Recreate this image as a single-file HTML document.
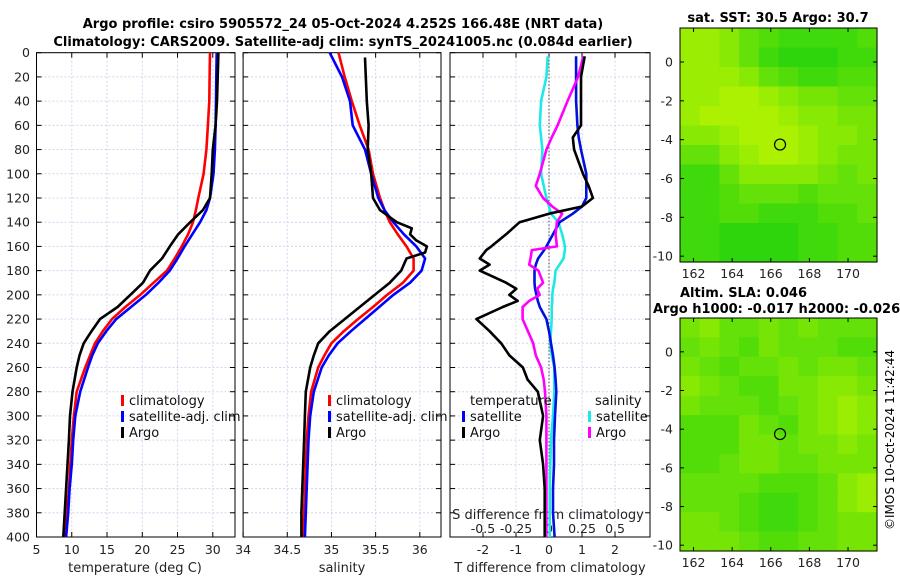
<!DOCTYPE html>
<html><head><meta charset="utf-8"><style>
body{margin:0;background:#fff}
svg{display:block;font-family:"DejaVu Sans","Liberation Sans",sans-serif}
</style></head><body>
<svg id="c" width="900" height="580" viewBox="0 0 900 580" xmlns="http://www.w3.org/2000/svg">
<rect width="900" height="580" fill="#fff"/>
<text x="343" y="28" text-anchor="middle" font-size="13" font-weight="bold">Argo profile: csiro 5905572_24 05-Oct-2024 4.252S 166.48E (NRT data)</text>
<text x="343" y="46" text-anchor="middle" font-size="13" font-weight="bold">Climatology: CARS2009. Satellite-adj clim: synTS_20241005.nc (0.084d earlier)</text>
<g id="plots"></g>
<text x="778" y="22" text-anchor="middle" font-size="13" font-weight="bold">sat. SST: 30.5 Argo: 30.7</text>
<text x="680" y="297" font-size="13" font-weight="bold">Altim. SLA: 0.046</text>
<text x="653" y="313" font-size="13" font-weight="bold">Argo h1000: -0.017 h2000: -0.026</text>
<text transform="translate(894,440) rotate(-90)" text-anchor="middle" font-size="12">©IMOS 10-Oct-2024 11:42:44</text>
</svg>
<script>
const depths=[0,20,40,60,80,100,120,130,140,150,160,170,180,190,200,210,220,230,240,250,260,280,300,320,340,360,380,400];
const tempClim=[29.6,29.55,29.5,29.3,29.1,28.7,27.95,27.6,27.2,26.5,25.6,24.6,23.5,21.6,19.7,17.6,15.7,14.4,13.3,12.6,11.9,10.7,10.3,10.0,9.8,9.6,9.3,9.0];
const tempSat=[30.55,30.5,30.45,30.4,30.3,30.1,29.6,29.1,28.2,27.1,26.0,25.0,23.9,22.3,20.5,18.4,16.3,14.9,13.7,12.9,12.3,11.2,10.5,10.2,10.0,9.7,9.5,9.2];
const tempArgo=[30.8,30.7,30.6,30.4,30.0,29.85,29.6,28.6,26.8,25.1,23.9,22.8,21.1,20.1,18.3,16.5,14.0,12.8,11.7,11.1,10.7,10.1,9.75,9.6,9.4,9.2,9.0,8.8];
const salClim=[35.08,35.15,35.23,35.32,35.42,35.47,35.55,35.6,35.66,35.75,35.85,35.93,35.93,35.81,35.63,35.47,35.30,35.14,35.0,34.92,34.85,34.77,34.74,34.72,34.71,34.70,34.69,34.68];
const salSat=[34.98,35.12,35.21,35.24,35.38,35.45,35.53,35.6,35.70,35.82,35.96,36.06,36.02,35.89,35.70,35.54,35.38,35.22,35.07,34.97,34.89,34.80,34.76,34.74,34.73,34.72,34.71,34.70];
const salArgoDepth=[4,40,60,80,100,120,130,140,145,150,155,160,165,170,180,190,200,210,220,230,240,250,260,280,300,320,340,360,380,400];
const salArgo=[35.38,35.40,35.42,35.41,35.45,35.47,35.55,35.74,35.91,35.89,35.96,36.08,36.06,35.85,35.79,35.66,35.49,35.32,35.15,34.98,34.85,34.80,34.76,34.71,34.70,34.69,34.68,34.67,34.66,34.66];
const diffDepth=[3,20,40,60,70,80,100,110,120,127,133,140,150,160,163,170,175,180,190,195,200,205,210,220,230,240,250,260,270,280,300,320,340,360,380,400];
const dTsat=[0.82,0.82,0.82,0.86,0.9,0.97,1.13,1.13,1.13,1.0,0.72,0.32,0.12,-0.08,-0.15,-0.33,-0.4,-0.44,-0.44,-0.42,-0.38,-0.34,-0.28,-0.08,0.0,0.06,0.12,0.17,0.2,0.22,0.18,0.15,0.15,0.12,0.12,0.17];
const dTargo=[1.08,0.97,0.97,0.97,0.72,0.76,1.03,1.2,1.33,1.0,0.0,-0.89,-1.3,-1.75,-1.9,-2.1,-1.8,-2.1,-1.3,-0.99,-1.2,-0.95,-1.4,-2.2,-1.8,-1.45,-1.2,-0.79,-0.65,-0.34,-0.18,-0.28,-0.18,-0.13,-0.13,-0.13];
const dSsat=[-0.01,-0.02,-0.06,-0.07,-0.06,-0.05,-0.06,-0.04,-0.02,0.0,0.015,0.07,0.1,0.12,0.12,0.11,0.08,0.05,0.04,0.03,0.025,0.025,0.02,0.02,0.015,0.01,0.02,0.04,0.04,0.04,0.03,0.015,0.01,0.005,0.005,0.005];
const dSargo=[0.26,0.22,0.14,0.065,0.02,-0.02,-0.07,-0.1,-0.045,0.025,0.1,0.06,0.05,0.06,-0.13,-0.14,-0.15,-0.08,-0.045,-0.09,-0.07,-0.15,-0.2,-0.2,-0.16,-0.12,-0.1,-0.06,-0.04,-0.03,-0.02,-0.02,-0.02,-0.02,-0.02,-0.02];
const depthTicks=[0,20,40,60,80,100,120,140,160,180,200,220,240,260,280,300,320,340,360,380,400];
const tempTicks=[5,10,15,20,25,30];
const salTicks=[34,34.5,35,35.5,36];
const dTTicks=[-2,-1,0,1,2];
const dSTicks=[-0.5,-0.25,0,0.25,0.5];
const dSTickLabels=["-0.5","-0.25","0","0.25","0.5"];
const lonTicks=[162,164,166,168,170];
const latTicks=[0,-2,-4,-6,-8,-10];
const sstGrid=[
[.8,.8,.7,.5,.4,.3,.3,.3,.3,.4],
[.8,.8,.7,.5,.3,.2,.2,.2,.3,.3],
[.8,.8,.8,.7,.5,.4,.3,.3,.4,.4],
[.8,.8,.9,.9,.8,.7,.6,.6,.5,.5],
[.8,.9,.9,.9,.9,.8,.7,.7,.6,.6],
[.7,.7,.8,.9,.9,.9,.8,.7,.7,.6],
[.5,.5,.7,.8,.9,.9,.8,.7,.6,.6],
[.3,.3,.5,.7,.7,.7,.7,.6,.5,.6],
[.3,.3,.4,.5,.5,.5,.4,.5,.5,.5],
[.3,.3,.4,.4,.3,.3,.3,.4,.4,.5],
[.3,.3,.2,.2,.2,.2,.3,.3,.4,.4],
[.3,.3,.2,.2,.2,.2,.3,.3,.4,.4]];
const slaGrid=[
[.6,.7,.5,.5,.6,.5,.6,.5,.5,.5],
[.5,.6,.5,.4,.6,.5,.5,.5,.4,.4],
[.6,.5,.4,.5,.5,.6,.5,.6,.6,.5],
[.7,.6,.5,.4,.4,.6,.6,.7,.7,.6],
[.6,.5,.5,.5,.4,.5,.6,.7,.8,.7],
[.4,.4,.4,.6,.5,.4,.6,.7,.8,.7],
[.4,.4,.4,.6,.6,.5,.6,.6,.7,.6],
[.4,.4,.5,.6,.6,.5,.5,.6,.6,.6],
[.5,.5,.5,.5,.4,.4,.4,.5,.7,.8],
[.5,.5,.5,.4,.3,.3,.4,.5,.7,.8],
[.6,.6,.5,.4,.3,.3,.4,.5,.6,.6],
[.6,.6,.6,.5,.4,.4,.5,.5,.6,.6]];
const argoLon=166.48, argoLat=-4.252;

const NS="http://www.w3.org/2000/svg";
const root=document.getElementById('plots');
function mk(tag,attrs,parent){const e=document.createElementNS(NS,tag);for(const k in attrs)e.setAttribute(k,attrs[k]);(parent||root).appendChild(e);return e;}
const Y0=52.7,Y1=537;
function yD(d){return Y0+(Y1-Y0)*d/400;}
const panels=[
 {x0:36.5,x1:235,v0:5,v1:33.15,name:'temperature'},
 {x0:243.1,x1:441,v0:34,v1:36.24,name:'salinity'},
 {x0:450,x1:650,v0:-3.0,v1:3.06,name:'difference'}];
function sx(p,v){return p.x0+(p.x1-p.x0)*(v-p.v0)/(p.v1-p.v0);}

panels.forEach((p,i)=>{
  const g=mk('g',{});
  
  
  depthTicks.forEach(d=>{const l=mk('line',{x1:p.x0,x2:p.x1,y1:yD(d),y2:yD(d),stroke:'#d0d6f0','stroke-width':1,'stroke-dasharray':'2,2'},g);
    
    [[p.x0,p.x0+5],[p.x1-5,p.x1]].forEach(a=>{const t=mk('line',{x1:a[0],x2:a[1],y1:yD(d),y2:yD(d),stroke:'#000'},g);});
  });
  const ticks=i==0?tempTicks:i==1?salTicks:dTTicks;
  ticks.forEach(v=>{const x=sx(p,v);
    const l=mk('line',{x1:x,x2:x,y1:Y0,y2:Y1,stroke:'#d0d6f0','stroke-dasharray':'2,2'},g);
    
    [[Y0,Y0+5],[Y1-5,Y1]].forEach(a=>{const t=mk('line',{x1:x,x2:x,y1:a[0],y2:a[1],stroke:'#000'},g);});
    const tx=mk('text',{x:x,y:554,'text-anchor':'middle','font-size':12.5,fill:'#222'},g);tx.textContent=String(v);
    
  });
  const fr=mk('rect',{x:p.x0,y:Y0,width:p.x1-p.x0,height:Y1-Y0,fill:'none',stroke:'#000'},g);
  
});
depthTicks.forEach(d=>{const t=mk('text',{x:30,y:yD(d)+4.5,'text-anchor':'end','font-size':12.5,fill:'#222'});t.textContent=String(d);
  });
[[135,'temperature (deg C)'],[342,'salinity'],[550,'T difference from climatology']].forEach((a,i)=>{
  const t=mk('text',{x:a[0],y:572,'text-anchor':'middle','font-size':13,fill:'#222'});t.textContent=a[1];
  
});
{const x=sx(panels[2],0);const l=mk('line',{x1:x,x2:x,y1:Y0,y2:Y1,stroke:'#444','stroke-dasharray':'1.5,2'});
 }
{const t=mk('text',{x:548,y:519,'text-anchor':'middle','font-size':13,fill:'#222'});t.textContent='S difference from climatology';
 
 dSTicks.forEach((v,i)=>{const tt=mk('text',{x:sx(panels[2],v*4),y:533,'text-anchor':'middle','font-size':12.5,fill:'#222'});tt.textContent=dSTickLabels[i];
 });}

function line(p,vals,ds,color,name,scale){
  const pts=vals.map((v,i)=>sx(p,v*(scale||1)).toFixed(1)+','+yD(ds[i]).toFixed(1)).join(' ');
  const e=mk('polyline',{points:pts,fill:'none',stroke:color,'stroke-width':2.6,'stroke-linejoin':'round'});
  
  
}
line(panels[0],tempClim,depths,'#f00','temp-climatology-line');
line(panels[0],tempSat,depths,'#00f','temp-satellite-line');
line(panels[0],tempArgo,depths,'#000','temp-argo-line');
line(panels[1],salClim,depths,'#f00','sal-climatology-line');
line(panels[1],salSat,depths,'#00f','sal-satellite-line');
line(panels[1],salArgo,salArgoDepth,'#000','sal-argo-line');
line(panels[2],dSsat,diffDepth,'#1ee8e8','s-diff-satellite-line',4);
line(panels[2],dTsat,diffDepth,'#0010e0','t-diff-satellite-line');
line(panels[2],dSargo,diffDepth,'#f0f','s-diff-argo-line',4);
line(panels[2],dTargo,diffDepth,'#000','t-diff-argo-line');

function legend(x,y,color,label,name){
  const r=mk('rect',{x:x,y:y-10,width:3,height:11,fill:color});
  const t=mk('text',{x:x+8,y:y,'font-size':13,fill:'#111'});t.textContent=label;
}
legend(121,405,'#f00','climatology','legend-climatology');
legend(121,421,'#00f','satellite-adj. clim','legend-satellite');
legend(121,437,'#000','Argo','legend-argo');
legend(328,405,'#f00','climatology','legend2-climatology');
legend(328,421,'#00f','satellite-adj. clim','legend2-satellite');
legend(328,437,'#000','Argo','legend2-argo');
{const t=mk('text',{x:470,y:405,'font-size':13,fill:'#111'});t.textContent='temperature';
 const s=mk('text',{x:595,y:405,'font-size':13,fill:'#111'});s.textContent='salinity';}
legend(462,421,'#00f','satellite','legend-t-satellite');
legend(462,437,'#000','Argo','legend-t-argo');
legend(588,421,'#1ee8e8','satellite','legend-s-satellite');
legend(588,437,'#f0f','Argo','legend-s-argo');

const LON0=161.3,LON1=171.5,LAT0=1.75,LAT1=-10.3;
function drawMap(grid,top,bot,name){
  const X0=680,X1=877;
  const g=mk('g',{});
  const mx=l=>X0+(X1-X0)*(l-LON0)/(LON1-LON0);
  const my=l=>top+(bot-top)*(LAT0-l)/(LAT0-LAT1);
  const rows=grid.length,cols=grid[0].length;
  const cw=(X1-X0)/cols,ch=(bot-top)/rows;
  grid.forEach((row,r)=>row.forEach((v,c)=>{
    const R=Math.round(10+180*v),G=Math.round(205+40*v),B=Math.round(15-15*v);
    const e=mk('rect',{x:(X0+c*cw).toFixed(2),y:(top+r*ch).toFixed(2),width:(cw+0.6).toFixed(2),height:(ch+0.6).toFixed(2),fill:`rgb(${R},${G},${B})`},g);
    
  }));
  const fr=mk('rect',{x:X0,y:top,width:X1-X0,height:bot-top,fill:'none',stroke:'#000'},g);
  
  latTicks.forEach(l=>{const y=my(l);
    [[X0,X0+4],[X1-4,X1]].forEach(a=>{const t=mk('line',{x1:a[0],x2:a[1],y1:y,y2:y,stroke:'#000'},g);});
    const t=mk('text',{x:673,y:y+4.5,'text-anchor':'end','font-size':12.5,fill:'#222'},g);t.textContent=String(l);});
  lonTicks.forEach(l=>{const x=mx(l);
    [[top,top+4],[bot-4,bot]].forEach(a=>{const t=mk('line',{x1:x,x2:x,y1:a[0],y2:a[1],stroke:'#000'},g);});
    const t=mk('text',{x:x,y:bot+16,'text-anchor':'middle','font-size':12.5,fill:'#222'},g);t.textContent=String(l);});
  const c=mk('circle',{cx:mx(argoLon),cy:my(argoLat),r:5.5,fill:'none',stroke:'#000','stroke-width':1.2},g);
  
}
drawMap(sstGrid,28,262,'sst-map');
drawMap(slaGrid,318,551,'sla-map');
</script>
</body></html>
